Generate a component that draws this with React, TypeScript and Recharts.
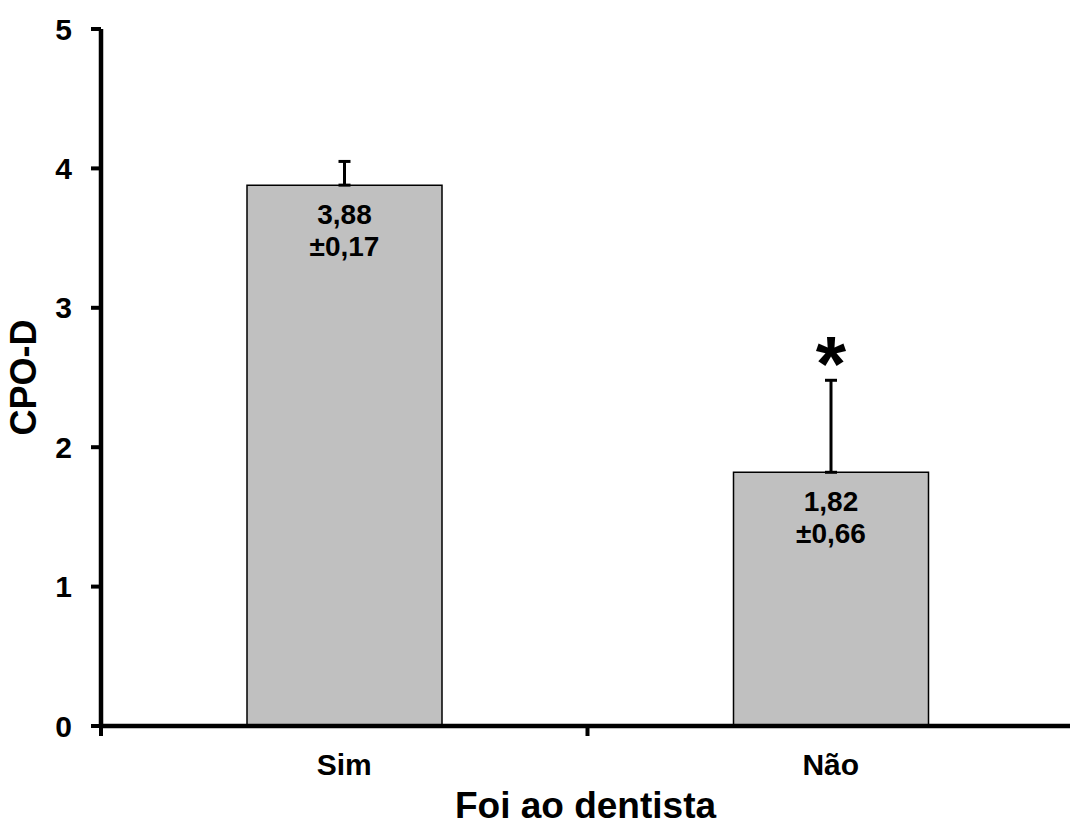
import React from "react";
import { BarChart, Bar, XAxis, YAxis, ErrorBar, LabelList, Label } from "recharts";

// values
const categories = ["Sim", "Não"];
const means = [3.88, 1.82];
const sds = [0.17, 0.66];
const marks = ["", "*"];
const yTicks = [0, 1, 2, 3, 4, 5];

const data = categories.map((c, i) => ({
  name: c,
  value: means[i],
  err: [0, sds[i]],
  sd: sds[i],
  mark: marks[i],
}));

const font = '"Liberation Sans", Arial, sans-serif';
const fmt = (v: number) => v.toFixed(2).replace(".", ",");

// Excel style: ticks sit between categories, labels at the centre
const XTick = (props: any) => {
  const { x, y, payload } = props;
  const half = payload && payload.offset != null ? payload.offset : 243;
  const axisY = y - 28;
  return (
    <g>
      <line x1={x - half} x2={x - half} y1={axisY} y2={axisY + 10} stroke="#000" strokeWidth={4} />
      <text x={x} y={y} dy="0.71em" textAnchor="middle" fontFamily={font} fontWeight="bold" fontSize={30} fill="#000">
        {payload.value}
      </text>
    </g>
  );
};

const ValueLabel = (props: any) => {
  const { x, y, width, index } = props;
  const cx = x + width / 2;
  return (
    <text textAnchor="middle" fontFamily={font} fontWeight="bold" fontSize={28} fill="#000">
      <tspan x={cx} y={y + 39}>{fmt(means[index])}</tspan>
      <tspan x={cx} y={y + 71}>{"±" + fmt(sds[index])}</tspan>
    </text>
  );
};

const StarLabel = (props: any) => {
  const { x, y, width, height, index } = props;
  if (!marks[index]) return null;
  const perUnit = height / means[index];
  const errTop = y - sds[index] * perUnit;
  const fs = 78;
  return (
    <text x={x + width / 2} y={errTop - 35 + 0.58 * fs} textAnchor="middle" fontFamily={font} fontWeight="bold" fontSize={fs} fill="#000">
      {marks[index]}
    </text>
  );
};

export default function App() {
  return (
    <div style={{ position: "absolute", left: 0, top: 0, width: 1070, height: 830, overflow: "hidden", background: "#fff" }}>
      <BarChart width={1074} height={830} data={data} margin={{ top: 29, right: 0, left: 0, bottom: 0 }}>
        <XAxis
          dataKey="name"
          height={104}
          tickLine={false}
          tickSize={10}
          tickMargin={18}
          axisLine={{ stroke: "#000", strokeWidth: 4.5 }}
          tick={<XTick />}
          interval={0}
        >
          <Label
            content={(p: any) => {
              const vb = p.viewBox;
              return (
                <text x={vb.x + vb.width / 2 - 2} y={vb.y + 92} textAnchor="middle" fontFamily={font} fontWeight="bold" fontSize={37} fill="#000">
                  Foi ao dentista
                </text>
              );
            }}
          />
        </XAxis>
        <YAxis
          domain={[0, 5]}
          ticks={yTicks}
          width={101}
          tickSize={10}
          tickMargin={19}
          axisLine={{ stroke: "#000", strokeWidth: 4.5 }}
          tickLine={{ stroke: "#000", strokeWidth: 4 }}
          tick={{ fill: "#000", fontFamily: font, fontWeight: "bold", fontSize: 30 }}
        >
          <Label
            content={(p: any) => {
              const vb = p.viewBox;
              const cx = 36;
              const cy = vb.y + vb.height / 2;
              return (
                <text x={cx} y={cy} transform={`rotate(-90, ${cx}, ${cy})`} textAnchor="middle" fontFamily={font} fontWeight="bold" fontSize={36} fill="#000">
                  CPO-D
                </text>
              );
            }}
          />
        </YAxis>
        <Bar dataKey="value" fill="#c0c0c0" stroke="#000" strokeWidth={1.5} barSize={195} isAnimationActive={false}>
          <ErrorBar dataKey="err" direction="y" width={6} stroke="#000" strokeWidth={3} />
          <LabelList dataKey="value" content={<ValueLabel />} />
          <LabelList dataKey="mark" content={<StarLabel />} />
        </Bar>
      </BarChart>
    </div>
  );
}
